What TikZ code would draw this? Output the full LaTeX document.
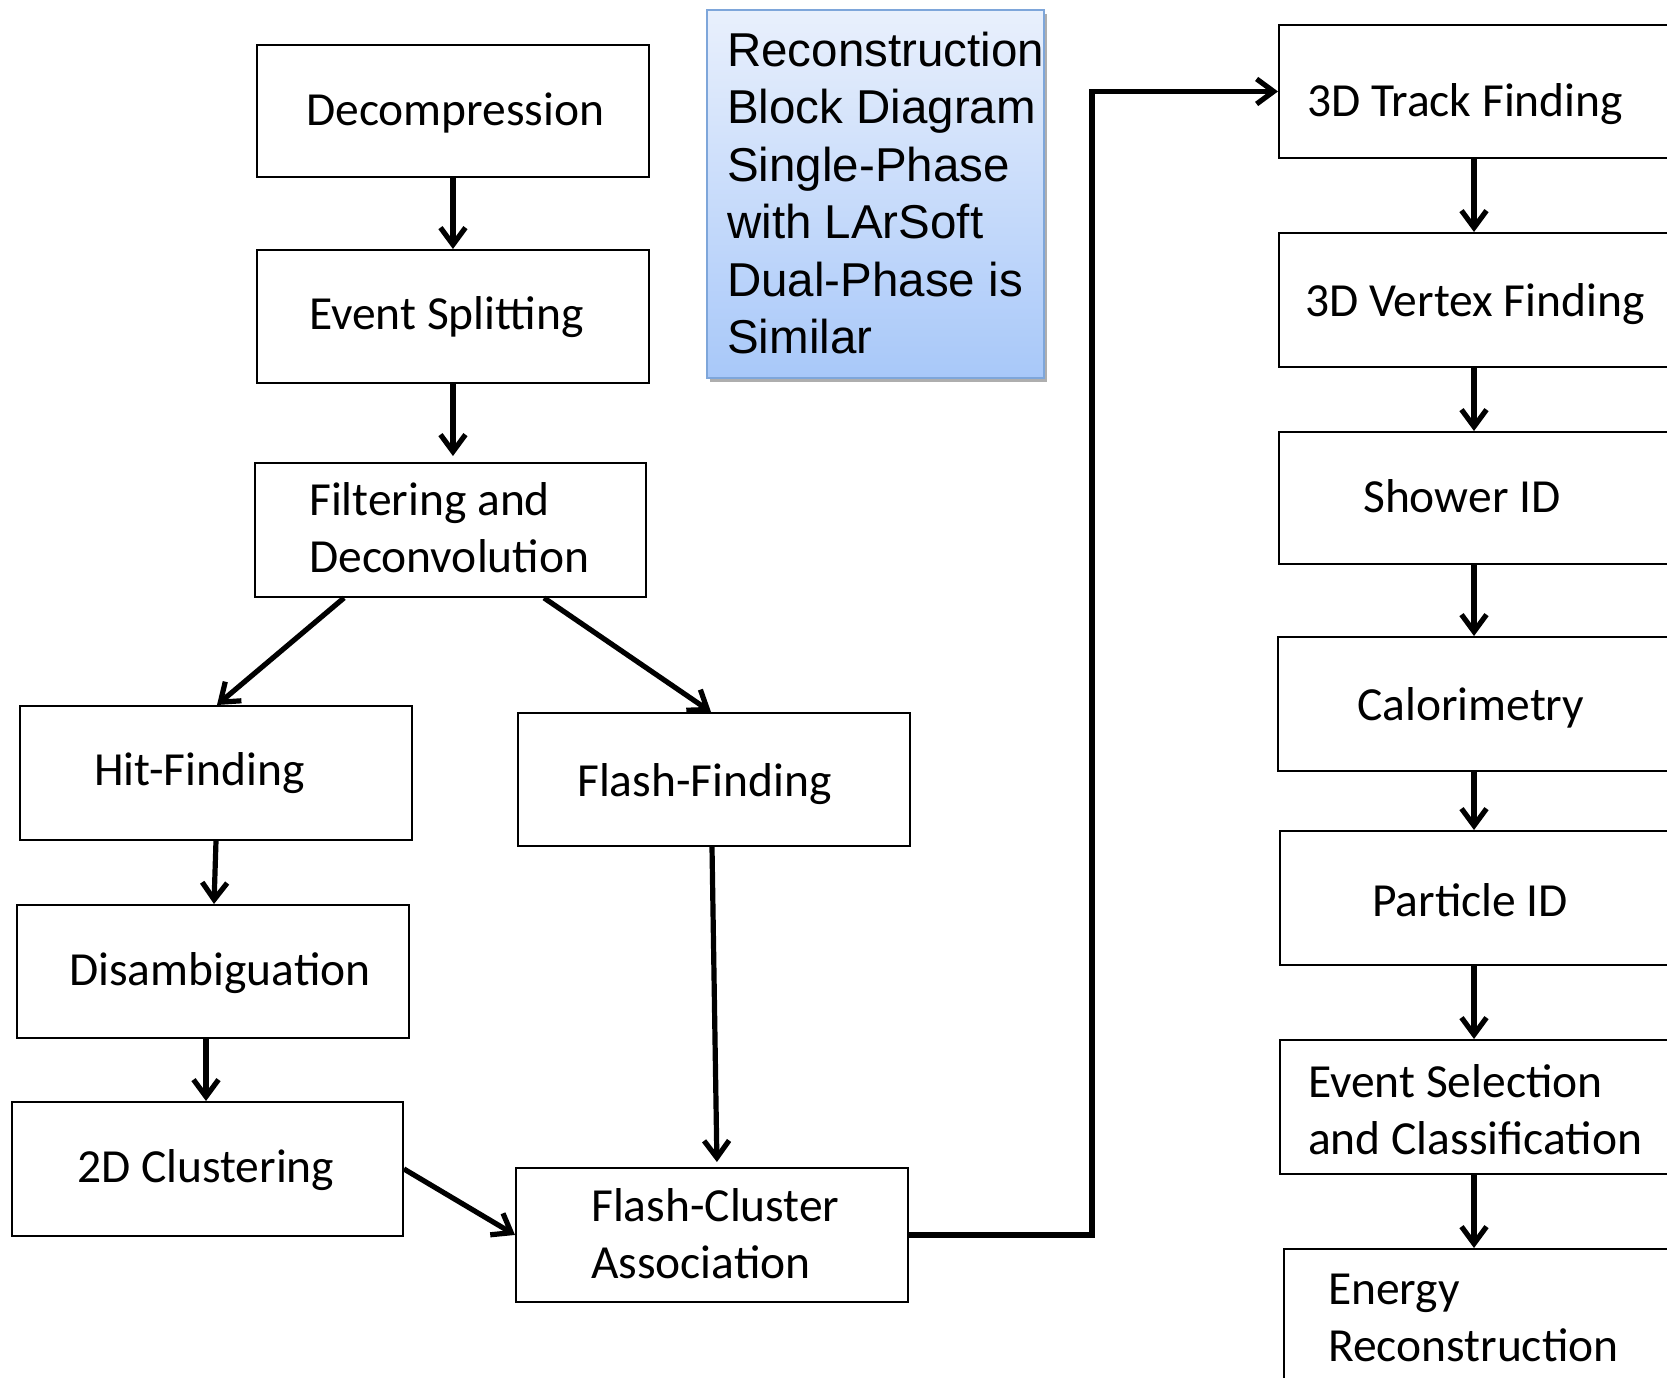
\documentclass[tikz,border=0pt]{standalone}
\usepackage{fontspec}
\setmainfont{Carlito}
\newfontfamily\notefont{Liberation Sans}
\usetikzlibrary{arrows.meta,shadows,calc}

\begin{document}
\begin{tikzpicture}[x=1pt,y=-1pt,
  stage/.style={draw=black, line width=1.9pt, inner sep=0pt, anchor=north west},
  stagetext/.style={anchor=west, inner sep=0pt, align=left,
    font=\fontsize{47.5}{57}\selectfont},
  flow/.style={line width=5.2pt, -{Straight Barb[length=17pt,width=25pt]}},
  notebox/.style={draw={rgb,255:red,126;green,166;blue,218}, line width=1.6pt,
    top color={rgb,255:red,233;green,240;blue,252},
    bottom color={rgb,255:red,168;green,200;blue,249},
    inner sep=0pt, anchor=north west,
    drop shadow={shadow xshift=3pt, shadow yshift=-4pt, opacity=.45, fill=black!70}},
  notetext/.style={anchor=west, inner sep=0pt, align=left,
    font=\notefont\fontsize{47.5}{57.5}\selectfont}
]
\useasboundingbox (0,0) rectangle (1667,1377);
\fill[white] (0,0) rectangle (1667,1377);
\clip (0,0) rectangle (1667,1377);

% left branch: processing stages
\node[stage, minimum width=392, minimum height=132] (dec) at (256,44) {};
\node[stagetext] (dec-t) at (306,113) {Decompression};
\node[stage, minimum width=392, minimum height=133] (split) at (256,249) {};
\node[stagetext] (split-t) at (309,317) {Event Splitting};
\node[stage, minimum width=391, minimum height=134] (filter) at (254,462) {};
\node[stagetext] (filter-t) at (309,528) {Filtering and\\Deconvolution};
\node[stage, minimum width=392, minimum height=134] (hit) at (19,705) {};
\node[stagetext] (hit-t) at (94,773) {Hit-Finding};
\node[stage, minimum width=392, minimum height=133] (flash) at (517,712) {};
\node[stagetext] (flash-t) at (577,784) {Flash-Finding};
\node[stage, minimum width=392, minimum height=133] (disamb) at (16,904) {};
\node[stagetext] (disamb-t) at (69,973) {Disambiguation};
\node[stage, minimum width=391, minimum height=134] (clus) at (11,1101) {};
\node[stagetext] (clus-t) at (77,1170) {2D Clustering};
\node[stage, minimum width=392, minimum height=134] (fca) at (515,1167) {};
\node[stagetext] (fca-t) at (591,1234) {Flash-Cluster\\Association};

% title note
\node[notebox, minimum width=337, minimum height=368] (note) at (706,9) {};
\node[notetext] (note-t) at (727,193) {Reconstruction\\Block Diagram\\Single-Phase\\with LArSoft\\Dual-Phase is\\Similar};

% right column: 3D stages
\node[stage, minimum width=450, minimum height=133] (track) at (1278,24) {};
\node[stagetext] (track-t) at (1307,104) {3D Track Finding};
\node[stage, minimum width=450, minimum height=134] (vertex) at (1278,232) {};
\node[stagetext] (vertex-t) at (1305,304) {3D Vertex Finding};
\node[stage, minimum width=450, minimum height=132] (shower) at (1278,431) {};
\node[stagetext] (shower-t) at (1363,496) {Shower ID};
\node[stage, minimum width=450, minimum height=134] (calor) at (1277,636) {};
\node[stagetext] (calor-t) at (1357,708) {Calorimetry};
\node[stage, minimum width=450, minimum height=134] (particle) at (1279,830) {};
\node[stagetext] (particle-t) at (1372,900) {Particle ID};
\node[stage, minimum width=450, minimum height=134] (select) at (1279,1039) {};
\node[stagetext] (select-t) at (1308,1110) {Event Selection\\and Classification};
\node[stage, minimum width=450, minimum height=140] (energy) at (1283,1248) {};
\node[stagetext] (energy-t) at (1328,1318) {Energy\\Reconstruction};

% connectors
\draw[flow] (dec.south) -- (split.north);
\draw[flow, shorten >=6pt] (split.south) -- (split.south |- filter.north);
\draw[flow] ([xshift=90pt]filter.south west) -- ([xshift=198pt]hit.north west);
\draw[flow] ([xshift=290pt]filter.south west) -- ([xshift=194pt]flash.north west);
\draw[flow] ([xshift=197pt]hit.south west) -- ([xshift=198pt]disamb.north west);
\draw[flow] ([xshift=190pt]disamb.south west) -- ([xshift=195pt]clus.north west);
\draw[flow, shorten >=5pt] ([xshift=195pt]flash.south west) -- ([xshift=202pt]fca.north west);
\draw[flow] (clus.east) -- (fca.west);
\coordinate (jog) at (1092,0);
\draw[flow] (fca.east) -- (fca.east -| jog) -- (jog |- track.west) -- (track.west);

\coordinate (col) at (1474,0);
\draw[flow] (track.south -| col) -- (vertex.north -| col);
\draw[flow] (vertex.south -| col) -- (shower.north -| col);
\draw[flow] (shower.south -| col) -- (calor.north -| col);
\draw[flow] (calor.south -| col) -- (particle.north -| col);
\draw[flow] (particle.south -| col) -- (select.north -| col);
\draw[flow] (select.south -| col) -- (energy.north -| col);
\end{tikzpicture}
\end{document}
